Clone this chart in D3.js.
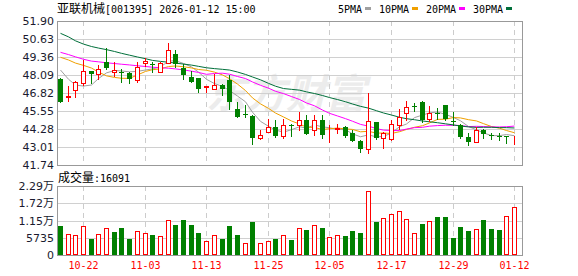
<!DOCTYPE html>
<html lang="zh-CN">
<head>
<meta charset="utf-8">
<title>亚联机械 日K</title>
<script src="https://cdn.jsdelivr.net/npm/d3@7"></script>
<style>
  html, body { margin: 0; padding: 0; background: #fff; }
  svg { display: block; }
  .ylab { font-family: "DejaVu Sans", sans-serif; font-size: 11px; fill: #1a1a2e; }
  .mono { font-family: "DejaVu Sans Mono", monospace; font-size: 10px; }
  .cjk { font-family: "Noto Sans CJK SC", sans-serif; font-size: 12px; }
</style>
</head>
<body>
<div id="chart"></div>
<script>
// 交易日
const dates = ["10-17","10-20","10-21","10-22","10-23","10-24","10-27","10-28","10-29","10-30",
  "10-31","11-03","11-04","11-05","11-06","11-07","11-10","11-11","11-12","11-13",
  "11-14","11-17","11-18","11-19","11-20","11-21","11-24","11-25","11-26","11-27",
  "11-28","12-01","12-02","12-03","12-04","12-05","12-08","12-09","12-10","12-11",
  "12-12","12-15","12-16","12-17","12-18","12-19","12-22","12-23","12-24","12-25",
  "12-26","12-29","12-30","12-31","01-05","01-06","01-07","01-08","01-09","01-12"];

const open = [47.79,46.52,47.01,47.55,48.37,48.14,49.01,48.30,48.28,48.25,
  47.74,48.96,48.87,48.28,48.96,49.55,48.60,47.94,47.86,47.25,
  47.12,47.36,47.74,45.67,45.31,45.22,43.67,44.07,44.44,43.76,
  44.56,44.54,44.92,44.21,44.92,44.19,44.30,44.44,43.98,43.45,
  42.85,44.77,43.62,43.55,44.54,45.39,45.92,46.19,45.01,45.41,
  45.95,44.82,44.54,43.74,43.38,44.21,43.88,43.76,43.81,43.77];
const high = [47.86,47.31,47.67,49.15,48.40,48.80,49.97,49.01,48.53,48.30,
  49.03,49.27,49.03,49.03,50.37,49.85,48.87,48.39,47.88,47.34,
  48.14,47.45,48.07,46.19,45.99,45.25,44.21,45.00,44.92,45.00,
  44.60,45.50,45.27,45.27,45.27,44.55,44.61,44.46,44.21,43.47,
  46.84,44.79,44.09,44.92,45.67,46.28,46.09,46.26,45.90,45.74,
  45.97,45.48,44.61,43.98,44.44,44.30,44.02,43.98,43.82,43.80];
const low = [46.18,46.28,46.56,47.38,47.50,47.81,48.51,48.04,47.60,47.55,
  47.58,48.75,48.28,48.28,48.92,48.68,47.81,47.60,46.87,46.87,
  47.12,46.66,45.69,45.11,45.11,43.20,43.60,44.07,43.70,43.62,
  43.81,44.21,43.93,43.86,43.62,43.38,43.98,43.74,43.43,42.68,
  42.61,43.57,42.92,43.50,44.26,44.92,45.57,44.80,44.87,45.01,
  44.92,44.54,43.67,43.13,43.38,43.62,43.60,43.50,43.27,43.20];
const close = [46.21,46.60,47.60,48.37,48.14,48.49,48.60,48.44,48.22,47.81,
  48.68,49.06,48.83,48.92,49.83,48.87,48.07,47.60,47.10,47.29,
  47.36,47.08,46.16,45.13,45.27,43.67,43.86,44.44,43.79,44.54,
  44.52,44.92,43.93,44.92,43.86,44.21,44.35,43.81,43.45,42.85,
  44.87,43.62,44.02,44.61,45.10,45.81,45.88,44.92,45.39,45.37,
  45.01,44.78,43.74,43.38,44.21,43.91,43.84,43.72,43.77,43.79];
const volume = [9640,6980,6540,9640,5320,6980,8870,7650,8980,5320,
  7870,7200,6650,6210,11530,9980,11640,9980,7430,4660,
  6540,5320,9640,6650,3990,10970,3990,4660,5320,6540,
  4990,8870,8310,9860,8980,5870,6540,6320,7980,7430,
  21170,10970,12190,13630,14520,11860,7320,10310,11200,12640,
  12640,5650,9310,7980,8530,11640,8650,8310,12860,16091];

// 窗口之前的历史收盘价看不到，均线前段按图读数
const ma5Head = [48.44,47.79,47.38,47.31];
const ma10Head = [49.34,49.15,48.93,48.77,48.58,48.30,48.03,47.92,47.86];
const ma20Head = [49.69,49.53,49.37,49.20,49.07,49.02,48.95,48.90,48.85,48.80,
  48.74,48.69,48.64,48.60,48.57,48.52,48.45,48.36,48.27];
const ma30Head = [51.03,50.78,50.50,50.27,50.10,49.99,49.88,49.75,49.62,49.49,
  49.36,49.24,49.12,49.05,48.99,48.93,48.86,48.79,48.70,48.60,
  48.54,48.49,48.44,48.30,48.13,47.95,47.75,47.50,47.30];

const priceTicks = [41.74,43.01,44.28,45.55,46.82,48.09,49.36,50.63,51.90];
const volTicks = [0,5735,11470,17205,22940];
const volTickLabels = ["0","5735","1.15万","1.72万","2.29万"];
const dateTicks = ["10-22","11-03","11-13","11-25","12-05","12-17","12-29","01-12"];

const maNames = ["5PMA","10PMA","20PMA","30PMA"];
const maColors = ["#a0a0a0","#f0a000","#ff00ff","#006f3a"];

const RED = "#ff0000", GREEN = "#008000";

function movingAvg(n, head) {
  return close.map((c, i) => i < head.length ? head[i] : d3.mean(close.slice(i - n + 1, i + 1)));
}
const maSeries = [movingAvg(5, ma5Head), movingAvg(10, ma10Head), movingAvg(20, ma20Head), movingAvg(30, ma30Head)];

const W = 578, H = 276;
const left = 57, right = 522;
const pTop = 21, pBot = 165, vTop = 186, vBot = 255;

const svg = d3.select("#chart").append("svg").attr("width", W).attr("height", H);

const x = d3.scaleBand().domain(dates).range([56, 518]).padding(0);
const cx = d => Math.round(x(d) + x.bandwidth() / 2);
const y = d3.scaleLinear().domain([41.74, 51.90]).range([pBot, pTop]);
const yv = d3.scaleLinear().domain([0, 22940]).range([vBot, vTop]);

// 水印
svg.append("text").attr("x", 206).attr("y", 108)
  .attr("font-family", "Noto Sans CJK SC").attr("font-weight", "bold").attr("font-size", 40)
  .attr("fill", "#ececec").attr("font-style", "italic").text("东方财富");

// 横向网格
function hGrid(scale, ticks) {
  svg.append("g").selectAll("line").data(ticks).join("line")
    .attr("x1", left).attr("x2", right)
    .attr("y1", d => Math.round(scale(d)) + 0.5).attr("y2", d => Math.round(scale(d)) + 0.5)
    .attr("stroke", "#d0d0d0");
}
hGrid(y, priceTicks.slice(1, -1));
hGrid(yv, volTicks.slice(1, -1));

// 竖向虚线
[[pTop, pBot], [vTop, vBot]].forEach(([t, b]) => {
  svg.append("g").selectAll("line").data(dateTicks).join("line")
    .attr("x1", d => cx(d) + 0.5).attr("x2", d => cx(d) + 0.5)
    .attr("y1", t).attr("y2", b)
    .attr("stroke", "#cccccc").attr("stroke-dasharray", "5,4");
});

// 边框
[[pTop, pBot], [vTop, vBot]].forEach(([t, b]) => {
  svg.append("rect").attr("x", left + 0.5).attr("y", t + 0.5)
    .attr("width", right - left).attr("height", b - t)
    .attr("fill", "none").attr("stroke", "#999");
});

// 均线
maSeries.forEach((s, k) => {
  svg.append("path").datum(s)
    .attr("fill", "none").attr("stroke", maColors[k]).attr("stroke-width", 1)
    .attr("d", d3.line().x((v, i) => cx(dates[i]) + 0.5).y(v => y(v)));
});

// K线
const candles = svg.append("g").selectAll("g").data(dates).join("g");
candles.each(function (d, i) {
  const g = d3.select(this);
  const up = close[i] >= open[i];
  const col = up ? RED : GREEN;
  const c = cx(d);
  g.append("line").attr("x1", c + 0.5).attr("x2", c + 0.5)
    .attr("y1", Math.round(y(high[i]))).attr("y2", Math.round(y(low[i])) + 1)
    .attr("stroke", col);
  const top = Math.round(y(Math.max(open[i], close[i])));
  const bot = Math.round(y(Math.min(open[i], close[i])));
  if (up) {
    g.append("rect").attr("x", c - 1.5).attr("y", top + 0.5)
      .attr("width", 4).attr("height", Math.max(bot - top, 0))
      .attr("fill", "#fff").attr("stroke", col);
  } else {
    g.append("rect").attr("x", c - 2).attr("y", top)
      .attr("width", 5).attr("height", Math.max(bot - top, 1))
      .attr("fill", col);
  }
});

// 成交量
const bars = svg.append("g").selectAll("rect").data(dates).join("rect")
  .each(function (d, i) {
    const up = i === 0 ? close[i] >= open[i] : close[i] >= close[i - 1];
    const t = Math.round(yv(volume[i]));
    const r = d3.select(this);
    if (up) {
      r.attr("x", cx(d) - 1.5).attr("y", t + 0.5).attr("width", 4).attr("height", vBot - t - 1)
        .attr("fill", "#fff").attr("stroke", RED);
    } else {
      r.attr("x", cx(d) - 2).attr("y", t).attr("width", 5).attr("height", vBot - t)
        .attr("fill", GREEN);
    }
  });

// 纵轴刻度
svg.append("g").selectAll("text").data(priceTicks).join("text")
  .attr("class", "ylab").attr("text-anchor", "end")
  .attr("x", 54).attr("y", d => y(d) + 4)
  .text(d => d.toFixed(2));
svg.append("g").selectAll("text").data(volTicks).join("text")
  .attr("class", "ylab").attr("text-anchor", "end")
  .attr("x", 54).attr("y", d => yv(d) + 4)
  .text((d, i) => volTickLabels[i]);

// 日期
svg.append("g").selectAll("text").data(dateTicks).join("text")
  .attr("class", "mono").attr("fill", RED).attr("text-anchor", "middle")
  .attr("x", d => cx(d) + 0.5).attr("y", 269)
  .text(d => d);

// 标题
const title = svg.append("text").attr("x", 57).attr("y", 13).attr("fill", "#000");
title.append("tspan").attr("class", "cjk").text("亚联机械");
title.append("tspan").attr("class", "mono").text("[001395] 2026-01-12 15:00");

const vt = svg.append("text").attr("x", 58).attr("y", 182).attr("fill", "#000");
vt.append("tspan").attr("class", "cjk").text("成交量");
vt.append("tspan").attr("class", "mono").text(":" + volume[volume.length - 1]);

// 图例
let lx = 338;
maNames.forEach((n, k) => {
  svg.append("text").attr("class", "mono").attr("x", lx).attr("y", 13).attr("fill", "#000").text(n);
  const sx = lx + n.length * 6 + 3;
  svg.append("rect").attr("x", sx).attr("y", 7).attr("width", 6).attr("height", 3).attr("fill", maColors[k]);
  lx = sx + 6 + 8;
});
</script>
</body>
</html>
